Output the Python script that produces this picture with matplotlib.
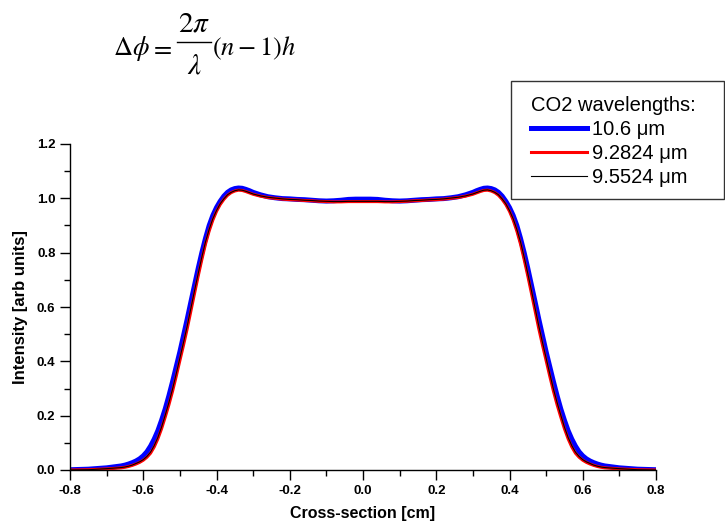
import numpy as np
import matplotlib
matplotlib.use("Agg")
from matplotlib import pyplot as plt
from matplotlib.lines import Line2D
from matplotlib.patches import Rectangle

plt.rcParams['font.family'] = ['Liberation Sans', 'DejaVu Sans']
plt.rcParams['mathtext.fontset'] = 'stix'

# cross-section positions [cm], left half; the right half mirrors it
x_half = [-0.80, -0.75, -0.70,
          -0.66, -0.65, -0.64, -0.63, -0.62, -0.61, -0.60, -0.59, -0.58, -0.57,
          -0.56, -0.55, -0.54, -0.53, -0.52, -0.51, -0.50, -0.49, -0.48, -0.47,
          -0.46, -0.45, -0.44, -0.43, -0.42, -0.41, -0.40, -0.39, -0.38, -0.37,
          -0.36, -0.35, -0.34, -0.33, -0.32, -0.31, -0.30,
          -0.28, -0.26, -0.24, -0.22, -0.20, -0.18, -0.16, -0.14, -0.12, -0.10,
          -0.08, -0.06, -0.04, -0.02]

# 10.6 um profile
i_106 = [0.001, 0.003, 0.008,
         0.015, 0.018, 0.022, 0.027, 0.033, 0.041, 0.052, 0.067, 0.088, 0.114,
         0.145, 0.183, 0.225, 0.273, 0.325, 0.380, 0.435, 0.495, 0.555, 0.618,
         0.680, 0.742, 0.800, 0.853, 0.900, 0.937, 0.966, 0.989, 1.008, 1.022,
         1.031, 1.036, 1.038, 1.037, 1.033, 1.028, 1.022,
         1.013, 1.006, 1.002, 0.999, 0.998, 0.996, 0.995, 0.993, 0.991, 0.990,
         0.991, 0.993, 0.996, 0.997]
# 9.2824 um profile
i_928 = [0.000, 0.001, 0.004,
         0.008, 0.010, 0.013, 0.017, 0.022, 0.028, 0.036, 0.047, 0.062, 0.085,
         0.115, 0.152, 0.195, 0.240, 0.290, 0.345, 0.403, 0.460, 0.520, 0.585,
         0.650, 0.714, 0.775, 0.832, 0.880, 0.920, 0.952, 0.977, 0.996, 1.011,
         1.021, 1.027, 1.030, 1.029, 1.025, 1.020, 1.015,
         1.008, 1.003, 1.000, 0.997, 0.995, 0.994, 0.992, 0.991, 0.989, 0.988,
         0.987, 0.987, 0.988, 0.988]
# 9.5524 um profile
i_955 = [0.000, 0.001, 0.005,
         0.009, 0.011, 0.014, 0.018, 0.024, 0.030, 0.038, 0.050, 0.066, 0.090,
         0.120, 0.158, 0.202, 0.248, 0.298, 0.354, 0.412, 0.470, 0.530, 0.595,
         0.660, 0.723, 0.784, 0.840, 0.886, 0.925, 0.955, 0.980, 0.998, 1.013,
         1.022, 1.028, 1.031, 1.030, 1.026, 1.021, 1.016,
         1.009, 1.004, 1.001, 0.998, 0.996, 0.995, 0.993, 0.992, 0.990, 0.989,
         0.988, 0.988, 0.989, 0.989]

labels = ['10.6 \u03bcm', '9.2824 \u03bcm', '9.5524 \u03bcm']
colors = ['#0000ff', '#ff0000', '#000000']
widths = [3.6, 2.2, 0.8]

xticks = [-0.8, -0.6, -0.4, -0.2, 0.0, 0.2, 0.4, 0.6, 0.8]
xticklabels = ['-0.8', '-0.6', '-0.4', '-0.2', '0.0', '0.2', '0.4', '0.6', '0.8']
yticks = [0.0, 0.2, 0.4, 0.6, 0.8, 1.0, 1.2]
yticklabels = ['0.0', '0.2', '0.4', '0.6', '0.8', '1.0', '1.2']

x = np.array(x_half + [0.0] + [-v for v in x_half[::-1]])
profiles = []
for p in (i_106, i_928, i_955):
    mid = p[-1]
    profiles.append(np.array(p + [mid] + p[::-1]))

W, H = 725, 528
fig = plt.figure(figsize=(W / 100, H / 100), dpi=100)
ax = fig.add_axes([70 / W, 58 / H, 586 / W, 326 / H])

for y, c, lw in zip(profiles, colors, widths):
    ax.plot(x, y, color=c, lw=lw, solid_joinstyle='round', solid_capstyle='butt')

ax.set_xlim(-0.8, 0.8)
ax.set_ylim(0.0, 1.2)
ax.set_xticks(xticks)
ax.set_xticklabels(xticklabels, fontweight='bold')
ax.set_xticks(np.arange(-0.7, 0.8, 0.2), minor=True)
ax.set_yticks(yticks)
ax.set_yticklabels(yticklabels, fontweight='bold')
ax.set_yticks(np.arange(0.1, 1.2, 0.2), minor=True)
ax.tick_params(which='major', direction='out', length=7, width=1, labelsize=9.5)
ax.tick_params(which='minor', direction='out', length=4, width=1)
ax.tick_params(axis='x', pad=4)
for s in ['top', 'right']:
    ax.spines[s].set_visible(False)
for s in ['left', 'bottom']:
    ax.spines[s].set_linewidth(1.0)

ax.set_xlabel('Cross-section [cm]', fontsize=11.5, fontweight='bold', labelpad=6)
ax.set_ylabel('Intensity [arb units]', fontsize=12, fontweight='bold', labelpad=6)


# phase formula, set piece by piece so the fraction is built up
def ftext(px, py, s, ha='left', size=19):
    fig.text(px / W, 1 - py / H, s, fontsize=size, ha=ha, va='baseline')


ftext(113, 55, r'$\Delta\phi$')
ftext(161, 55, r'$=$', ha='center')
ftext(194, 31, r'$2\pi$', ha='center', size=21)
fig.add_artist(Line2D([177 / W, 211 / W], [1 - 42 / H, 1 - 42 / H],
                      transform=fig.transFigure, color='black', lw=1.0))
ftext(194, 74, r'$\lambda$', ha='center', size=21)
ftext(212, 55, r'$(n-1)h$')

# legend: frame drawn separately, entries placed inside it
fig.patches.append(Rectangle((511 / W, 1 - 199 / H), 213 / W, 118 / H,
                             transform=fig.transFigure, fill=False,
                             edgecolor='#333333', lw=1.0))
handles = [Line2D([], [], color=c, lw=lw) for c, lw in zip(colors, widths)]
leg = fig.legend(handles, labels, title='CO2 wavelengths:', loc='upper left',
                 bbox_to_anchor=(525 / W, 1 - 90 / H), fontsize=14.5,
                 title_fontsize=14.5, frameon=False, handlelength=2.8,
                 handletextpad=0.25, labelspacing=0.25, borderpad=0.3,
                 borderaxespad=0)
leg._legend_box.align = 'left'

fig.savefig('out.png', dpi=100)
